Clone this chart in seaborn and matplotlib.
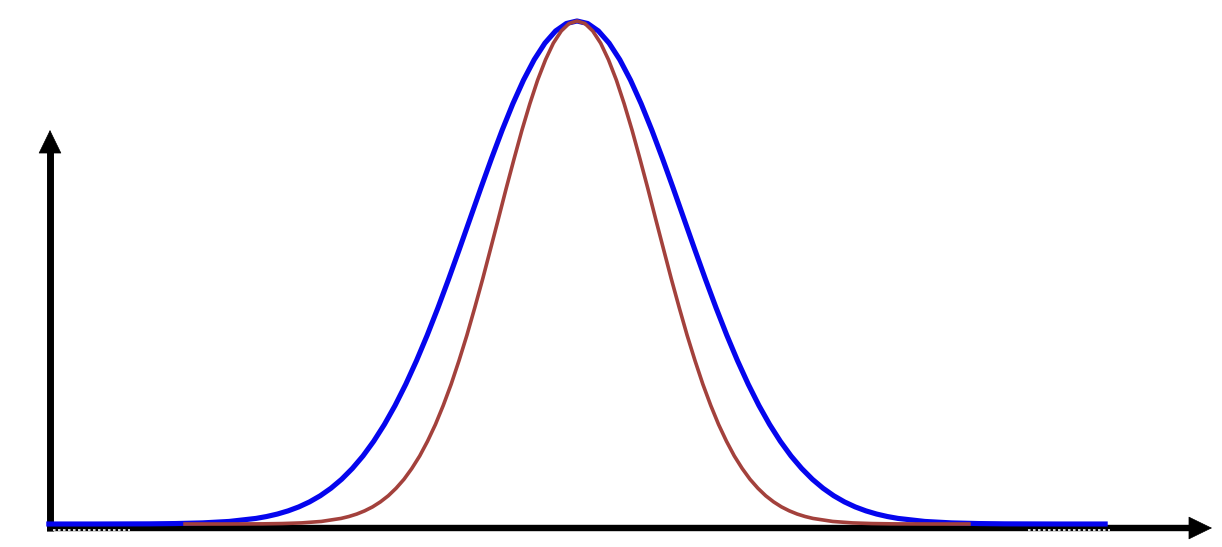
import matplotlib.pyplot as plt
import seaborn as sns
import pandas as pd

# right half of the bell profile (height relative to the peak);
# the curves are symmetric, so the left half is the mirror image
heights = [1.0, 0.995, 0.9802, 0.956, 0.9231, 0.8825, 0.8353, 0.7827, 0.7261, 0.667,
           0.6065, 0.5461, 0.4868, 0.4296, 0.3753, 0.3247, 0.278, 0.2357, 0.1979,
           0.1645, 0.1353, 0.1103, 0.0889, 0.071, 0.0561, 0.0439, 0.034, 0.0261,
           0.0198, 0.0149, 0.0111, 0.0051, 0.0022, 0.0009, 0.0003, 0.0, 0.0]

# wide (blue) curve positions, in units from the centre
blue_half_x = [0.0, 0.1, 0.2, 0.3, 0.4, 0.5, 0.6, 0.7, 0.8, 0.9, 1.0, 1.1, 1.2, 1.3,
               1.4, 1.5, 1.6, 1.7, 1.8, 1.9, 2.0, 2.1, 2.2, 2.3, 2.4, 2.5, 2.6, 2.7,
               2.8, 2.9, 3.0, 3.25, 3.5, 3.75, 4.0, 4.5, 4.96]

# narrow (brown) curve positions, same heights
brown_half_x = [0.0, 0.074, 0.147, 0.221, 0.294, 0.368, 0.441, 0.515, 0.588, 0.662,
                0.735, 0.809, 0.882, 0.956, 1.029, 1.103, 1.176, 1.25, 1.323, 1.397,
                1.47, 1.544, 1.617, 1.691, 1.764, 1.838, 1.911, 1.985, 2.058, 2.132,
                2.205, 2.389, 2.573, 2.756, 2.94, 3.31, 3.68]


def mirrored(half_x, half_y, name):
    xs = [-v for v in half_x[:0:-1]] + half_x
    ys = half_y[:0:-1] + half_y
    return pd.DataFrame({"x": xs, "y": ys, "curve": name})


wide = mirrored(blue_half_x, heights, "wide")
narrow = mirrored(brown_half_x, heights, "narrow")

sns.set_style("white")
fig = plt.figure(figsize=(12.22, 5.47), dpi=100)
ax = fig.add_axes([0, 0, 1, 1])

sns.lineplot(data=wide, x="x", y="y", color="#0505ee", lw=3.7, sort=False,
             ax=ax, zorder=3, solid_capstyle="butt")
sns.lineplot(data=narrow, x="x", y="y", color="#a3413c", lw=2.6, sort=False,
             ax=ax, zorder=4, solid_capstyle="butt")

# map the data onto the picture: centre at px 577, 107 px per unit,
# baseline at px 524, peak at px 21
ax.set_xlim(-577 / 107, (1222 - 577) / 107)
ax.set_ylim((524 - 547) / 503, 524 / 503)
ax.axis("off")


def fx(px):
    return px / 1222


def fy(py):
    return (547 - py) / 547


# axis shafts
ax.plot([fx(50), fx(50)], [fy(531), fy(150)], transform=ax.transAxes,
        color="black", lw=5, solid_capstyle="butt", zorder=2)
ax.plot([fx(47), fx(1192)], [fy(528), fy(528)], transform=ax.transAxes,
        color="black", lw=4.6, solid_capstyle="butt", zorder=2)

# sharp arrow heads
head = dict(arrowstyle="-|>,head_length=1.6,head_width=0.78", lw=0.5,
            color="black", shrinkA=0, shrinkB=0)
ax.annotate("", xy=(fx(50), fy(130)), xytext=(fx(50), fy(160)),
            xycoords="axes fraction", textcoords="axes fraction", arrowprops=head)
ax.annotate("", xy=(fx(1212), fy(528)), xytext=(fx(1180), fy(528)),
            xycoords="axes fraction", textcoords="axes fraction", arrowprops=head)

# faint white dotted marks under the blue tails
for x0, x1 in [(53, 130), (1028, 1110)]:
    ax.plot([fx(x0), fx(x1)], [fy(529.5)] * 2, transform=ax.transAxes,
            color="white", lw=1.2, ls=(0, (1.5, 1.5)), zorder=5)

fig.savefig("out.png", dpi=100)
print("saved out.png")
